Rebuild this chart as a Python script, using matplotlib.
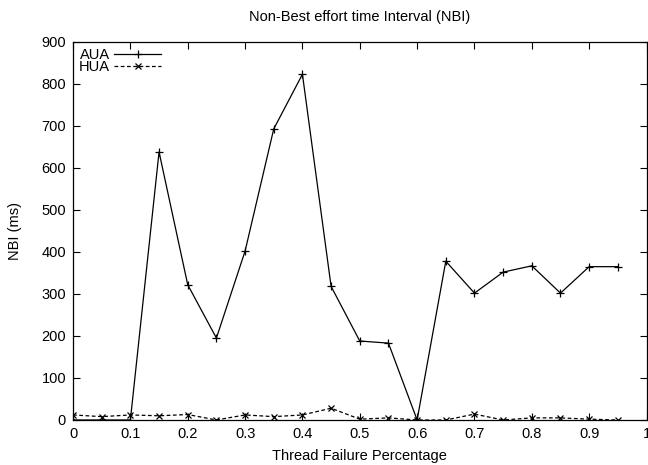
import matplotlib
matplotlib.use("Agg")
import matplotlib.pyplot as plt

plt.rcParams['font.family'] = ['Liberation Sans', 'DejaVu Sans']
plt.rcParams['font.size'] = 10.5

# Thread failure percentage
x = [0, 0.05, 0.1, 0.15, 0.2, 0.25, 0.3, 0.35, 0.4, 0.45,
     0.5, 0.55, 0.6, 0.65, 0.7, 0.75, 0.8, 0.85, 0.9, 0.95]
aua = [0, 0, 0, 638, 322, 195, 402, 693, 823, 318,
       188, 183, 0, 378, 302, 352, 367, 302, 365, 365]
hua = [12, 8, 12, 10, 13, 0, 12, 8, 12, 28,
       2, 5, 0, 0, 14, 0, 5, 5, 2, 0]

fig = plt.figure(figsize=(6.48, 4.65), dpi=100)
ax = fig.add_axes([0.1127, 0.0968, 0.885, 0.813])

ax.plot(x, aua, color='black', lw=0.9, marker='+', ms=6, mew=0.9, label='AUA')
ax.plot(x, hua, color='black', lw=0.9, ls=(0, (3, 2)), marker='x', ms=4.5, mew=0.9, label='HUA')

ax.set_xlim(0, 1)
ax.set_ylim(0, 900)
ax.set_xticks([i / 10 for i in range(11)])
ax.set_xticklabels(['0', '0.1', '0.2', '0.3', '0.4', '0.5', '0.6', '0.7', '0.8', '0.9', '1'])
ax.set_yticks(range(0, 901, 100))
ax.tick_params(direction='in', top=True, right=True, length=5, width=0.8, pad=5)
for s in ax.spines.values():
    s.set_linewidth(0.9)

ax.set_xlabel('Thread Failure Percentage', labelpad=6)
ax.set_ylabel('NBI (ms)', labelpad=14)
ax.set_title('Non-Best effort time Interval (NBI)', pad=15, fontsize=10.5)

leg = ax.legend(loc='upper left', frameon=False, handlelength=3.2, handletextpad=0.3,
                borderaxespad=0.2, borderpad=0.2, labelspacing=-0.1, markerfirst=False)

fig.savefig('out.png', dpi=100)
